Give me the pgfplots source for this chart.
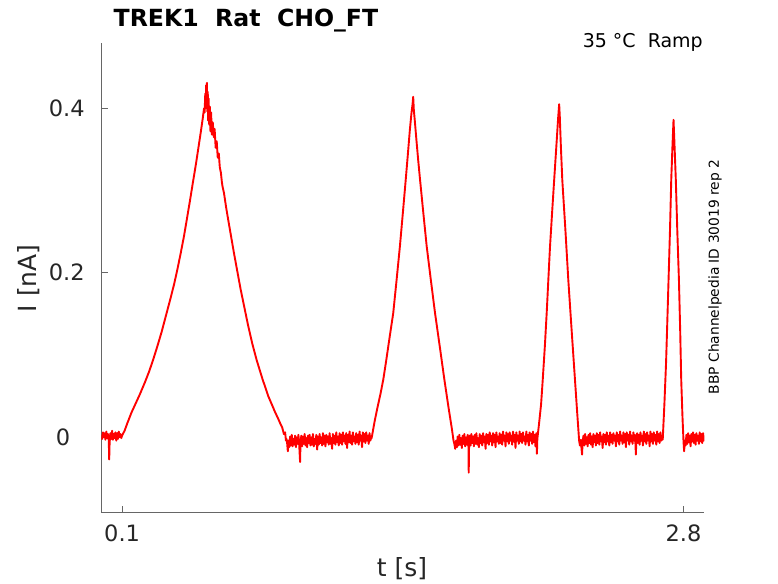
\documentclass[border=0pt]{standalone}
\usepackage{fontspec}
\setmainfont{DejaVu Sans}
\usepackage{pgfplots}
\pgfplotsset{compat=1.18}
\usepackage{pgfplotstable}
\pgfplotstableread{
t v
0.000 0.003
0.004 -0.002
0.008 0.006
0.012 0.000
0.016 0.005
0.020 -0.003
0.024 0.007
0.028 -0.001
0.032 0.004
0.036 -0.004
0.038 -0.027
0.040 -0.006
0.044 0.005
0.048 -0.002
0.052 0.008
0.056 -0.003
0.060 0.004
0.064 -0.001
0.068 0.006
0.072 -0.004
0.076 0.005
0.080 -0.002
0.084 0.007
0.088 0.000
0.092 0.004
0.096 -0.001
0.100 0.002
0.112 0.008
0.125 0.017
0.145 0.030
0.165 0.041
0.185 0.052
0.210 0.067
0.230 0.080
0.249 0.094
0.270 0.111
0.290 0.128
0.312 0.149
0.334 0.170
0.350 0.186
0.365 0.203
0.382 0.224
0.398 0.245
0.412 0.266
0.426 0.287
0.440 0.309
0.455 0.332
0.467 0.352
0.479 0.372
0.488 0.388
0.494 0.400
0.497 0.395
0.500 0.418
0.502 0.400
0.504 0.428
0.506 0.410
0.508 0.431
0.510 0.396
0.512 0.420
0.514 0.385
0.516 0.412
0.519 0.380
0.522 0.402
0.525 0.372
0.528 0.395
0.532 0.368
0.536 0.383
0.541 0.365
0.545 0.375
0.550 0.352
0.555 0.360
0.560 0.340
0.565 0.345
0.570 0.328
0.575 0.322
0.580 0.310
0.583 0.305
0.590 0.297
0.600 0.280
0.612 0.262
0.625 0.243
0.638 0.224
0.654 0.202
0.670 0.180
0.688 0.158
0.706 0.136
0.726 0.114
0.747 0.094
0.775 0.071
0.803 0.050
0.820 0.040
0.835 0.031
0.850 0.023
0.862 0.016
0.870 0.012
0.878 0.004
0.884 0.006
0.888 -0.004
0.891 -0.002
0.894 -0.008
0.897 -0.017
0.900 -0.004
0.904 -0.012
0.908 0.001
0.912 -0.010
0.916 0.003
0.920 -0.011
0.924 -0.002
0.928 -0.009
0.932 0.002
0.936 -0.012
0.940 0.000
0.944 -0.008
0.948 0.003
0.952 -0.010
0.956 -0.030
0.958 -0.006
0.962 0.002
0.966 -0.011
0.970 0.001
0.974 -0.008
0.978 0.004
0.982 -0.010
0.986 -0.001
0.990 -0.012
0.994 0.002
0.998 -0.007
1.002 0.003
1.006 -0.010
1.010 0.000
1.014 -0.009
1.018 0.004
1.022 -0.011
1.026 -0.002
1.030 -0.008
1.034 0.003
1.038 -0.015
1.042 0.001
1.046 -0.009
1.050 0.004
1.054 -0.007
1.058 0.000
1.062 -0.010
1.066 0.005
1.070 -0.008
1.074 0.002
1.078 -0.011
1.082 0.003
1.086 -0.006
1.090 0.001
1.094 -0.009
1.098 0.005
1.102 -0.008
1.106 -0.001
1.110 -0.014
1.114 0.004
1.118 -0.007
1.122 0.002
1.126 -0.009
1.130 0.006
1.134 -0.006
1.138 0.001
1.142 -0.010
1.146 0.005
1.150 -0.007
1.154 0.003
1.158 -0.009
1.162 0.006
1.166 -0.005
1.170 0.002
1.174 -0.008
1.178 0.005
1.182 -0.013
1.186 0.003
1.190 -0.006
1.194 0.007
1.198 -0.007
1.202 0.002
1.206 -0.009
1.210 0.006
1.214 -0.005
1.218 0.001
1.222 -0.008
1.226 0.005
1.230 -0.006
1.234 0.003
1.238 -0.009
1.242 0.007
1.246 -0.004
1.250 0.002
1.254 -0.012
1.258 0.006
1.262 -0.005
1.266 0.004
1.270 -0.007
1.274 0.006
1.278 -0.004
1.282 0.002
1.286 -0.008
1.290 0.005
1.294 -0.004
1.298 0.000
1.300 -0.001
1.315 0.020
1.328 0.036
1.342 0.052
1.356 0.070
1.370 0.093
1.388 0.124
1.404 0.151
1.420 0.191
1.436 0.232
1.450 0.272
1.464 0.313
1.474 0.343
1.484 0.374
1.492 0.395
1.497 0.405
1.500 0.414
1.503 0.398
1.508 0.384
1.516 0.360
1.524 0.337
1.533 0.313
1.549 0.272
1.565 0.232
1.585 0.191
1.605 0.151
1.628 0.110
1.650 0.070
1.670 0.036
1.685 0.012
1.694 -0.004
1.698 -0.008
1.702 -0.014
1.706 -0.004
1.710 -0.012
1.714 0.001
1.718 -0.010
1.722 0.003
1.726 -0.009
1.730 -0.001
1.734 -0.013
1.738 0.002
1.742 -0.008
1.746 0.004
1.750 -0.011
1.754 0.000
1.758 -0.009
1.762 0.003
1.766 -0.012
1.767 -0.043
1.769 -0.006
1.772 0.002
1.776 -0.010
1.780 0.004
1.784 -0.007
1.788 0.001
1.792 -0.011
1.796 0.003
1.800 -0.008
1.804 0.005
1.808 -0.009
1.812 -0.001
1.816 -0.012
1.820 0.004
1.824 -0.007
1.828 0.002
1.832 -0.010
1.836 0.005
1.840 -0.006
1.844 0.001
1.848 -0.014
1.852 0.004
1.856 -0.007
1.860 0.003
1.864 -0.009
1.868 0.006
1.872 -0.005
1.876 0.002
1.880 -0.010
1.884 0.005
1.888 -0.006
1.892 0.003
1.896 -0.012
1.900 0.006
1.904 -0.005
1.908 0.001
1.912 -0.008
1.916 0.005
1.920 -0.007
1.924 0.003
1.928 -0.009
1.932 0.007
1.936 -0.004
1.940 0.002
1.944 -0.011
1.948 0.006
1.952 -0.005
1.956 0.004
1.960 -0.008
1.964 0.006
1.968 -0.004
1.972 0.002
1.976 -0.009
1.980 0.007
1.984 -0.005
1.988 0.003
1.992 -0.013
1.996 0.006
2.000 -0.004
2.004 0.002
2.008 -0.008
2.012 0.007
2.016 -0.005
2.020 0.004
2.024 -0.007
2.028 0.006
2.032 -0.004
2.036 0.001
2.040 -0.009
2.044 0.007
2.048 -0.005
2.052 0.003
2.056 -0.010
2.060 0.006
2.064 -0.004
2.068 0.004
2.072 -0.008
2.076 0.007
2.080 -0.006
2.084 0.003
2.088 -0.011
2.092 0.005
2.095 -0.020
2.097 -0.002
2.105 0.016
2.115 0.040
2.123 0.070
2.133 0.110
2.142 0.151
2.150 0.192
2.158 0.232
2.168 0.273
2.178 0.313
2.190 0.360
2.197 0.388
2.202 0.405
2.205 0.390
2.210 0.355
2.217 0.313
2.232 0.252
2.246 0.191
2.262 0.130
2.278 0.070
2.290 0.025
2.298 -0.004
2.302 -0.010
2.306 -0.003
2.309 -0.012
2.312 -0.021
2.315 -0.005
2.319 0.002
2.323 -0.010
2.327 0.004
2.331 -0.008
2.335 0.000
2.339 -0.011
2.343 0.003
2.347 -0.007
2.351 0.005
2.355 -0.009
2.359 0.001
2.363 -0.012
2.367 0.004
2.371 -0.006
2.375 0.002
2.379 -0.010
2.383 0.005
2.387 -0.007
2.391 0.003
2.395 -0.009
2.399 0.006
2.403 -0.005
2.407 0.001
2.411 -0.013
2.415 0.004
2.419 -0.006
2.423 0.003
2.427 -0.009
2.431 0.006
2.435 -0.005
2.439 0.002
2.443 -0.010
2.447 0.006
2.451 -0.006
2.455 0.003
2.459 -0.008
2.463 0.005
2.467 -0.004
2.471 0.002
2.475 -0.011
2.479 0.006
2.483 -0.005
2.487 0.003
2.491 -0.009
2.495 0.007
2.499 -0.004
2.503 0.002
2.507 -0.008
2.511 0.006
2.515 -0.006
2.519 0.004
2.523 -0.012
2.527 0.006
2.531 -0.004
2.535 0.003
2.539 -0.009
2.543 0.007
2.547 -0.005
2.551 0.002
2.555 -0.008
2.559 0.006
2.563 -0.004
2.567 0.003
2.571 -0.021
2.573 -0.003
2.577 0.005
2.581 -0.007
2.585 0.003
2.589 -0.009
2.593 0.006
2.597 -0.004
2.601 0.002
2.605 -0.010
2.609 0.007
2.613 -0.005
2.617 0.004
2.621 -0.008
2.625 0.006
2.629 -0.004
2.633 0.002
2.637 -0.011
2.641 0.007
2.645 -0.005
2.649 0.004
2.653 -0.008
2.657 0.006
2.661 -0.004
2.665 0.003
2.669 -0.009
2.673 0.007
2.677 -0.005
2.681 0.004
2.685 -0.007
2.689 0.006
2.693 -0.004
2.697 0.002
2.700 -0.003
2.708 0.040
2.716 0.090
2.722 0.140
2.728 0.191
2.735 0.252
2.741 0.313
2.747 0.355
2.752 0.386
2.756 0.360
2.763 0.313
2.770 0.252
2.778 0.191
2.784 0.130
2.789 0.070
2.795 0.025
2.800 -0.005
2.803 -0.017
2.806 -0.004
2.810 -0.010
2.814 0.003
2.818 -0.008
2.822 0.005
2.826 -0.006
2.830 0.002
2.834 -0.011
2.838 0.004
2.842 -0.005
2.846 0.006
2.850 -0.007
2.854 0.003
2.858 -0.009
2.862 0.005
2.866 -0.004
2.870 0.002
2.874 -0.008
2.878 0.006
2.882 -0.005
2.886 0.004
2.890 -0.007
2.894 0.005
2.898 -0.004
2.900 0.001
}\trace
\begin{document}
\begin{tikzpicture}
\path[use as bounding box] (0,0) rectangle (778pt,583pt);
\begin{axis}[
  at={(101.3pt,70.7pt)}, anchor=south west,
  scale only axis, width=603pt, height=468.8pt,
  xmin=0, xmax=2.9, ymin=-0.0912, ymax=0.4788,
  axis x line*=bottom, axis y line*=left,
  axis line style={draw=black!60, line width=0.9pt, -},
  tick align=inside, major tick length=6.7pt,
  tick style={draw=black!60, line width=0.9pt},
  xtick={0.1,2.8}, xticklabels={0.1,2.8},
  ytick={0,0.2,0.4}, yticklabels={0\phantom{0},0.2,0.4},
  ticklabel style={font=\fontsize{22.5}{27}\selectfont, text=black!85},
  xticklabel style={anchor=base, inner sep=0pt, yshift=-29.4pt},
  yticklabel style={anchor=east, inner sep=0pt, xshift=-16.5pt},
]
\addplot[red, line width=1.9pt, line join=round, mark=none] table[x=t, y=v] {\trace};
\end{axis}
\node[anchor=base, inner sep=0pt, font=\fontsize{25}{30}\selectfont, text=black!85] at (402pt,6.3pt) {t [s]};
\node[rotate=90, anchor=base, inner sep=0pt, font=\fontsize{25}{30}\selectfont, text=black!85] at (36.9pt,304.7pt) {I [nA]};
\node[anchor=base west, inner sep=0pt, font=\bfseries\fontsize{23.6}{28}\selectfont] at (113.5pt,556.3pt) {TREK1\ \ Rat\ \ CHO\_FT};
\node[anchor=base east, inner sep=0pt, font=\fontsize{19}{23}\selectfont] at (703pt,535.3pt) {35 °C\ \ Ramp};
\node[rotate=90, inner sep=0pt, font=\fontsize{13.8}{16}\selectfont] at (715pt,306pt) {BBP Channelpedia ID 30019 rep 2};
\end{tikzpicture}
\end{document}
